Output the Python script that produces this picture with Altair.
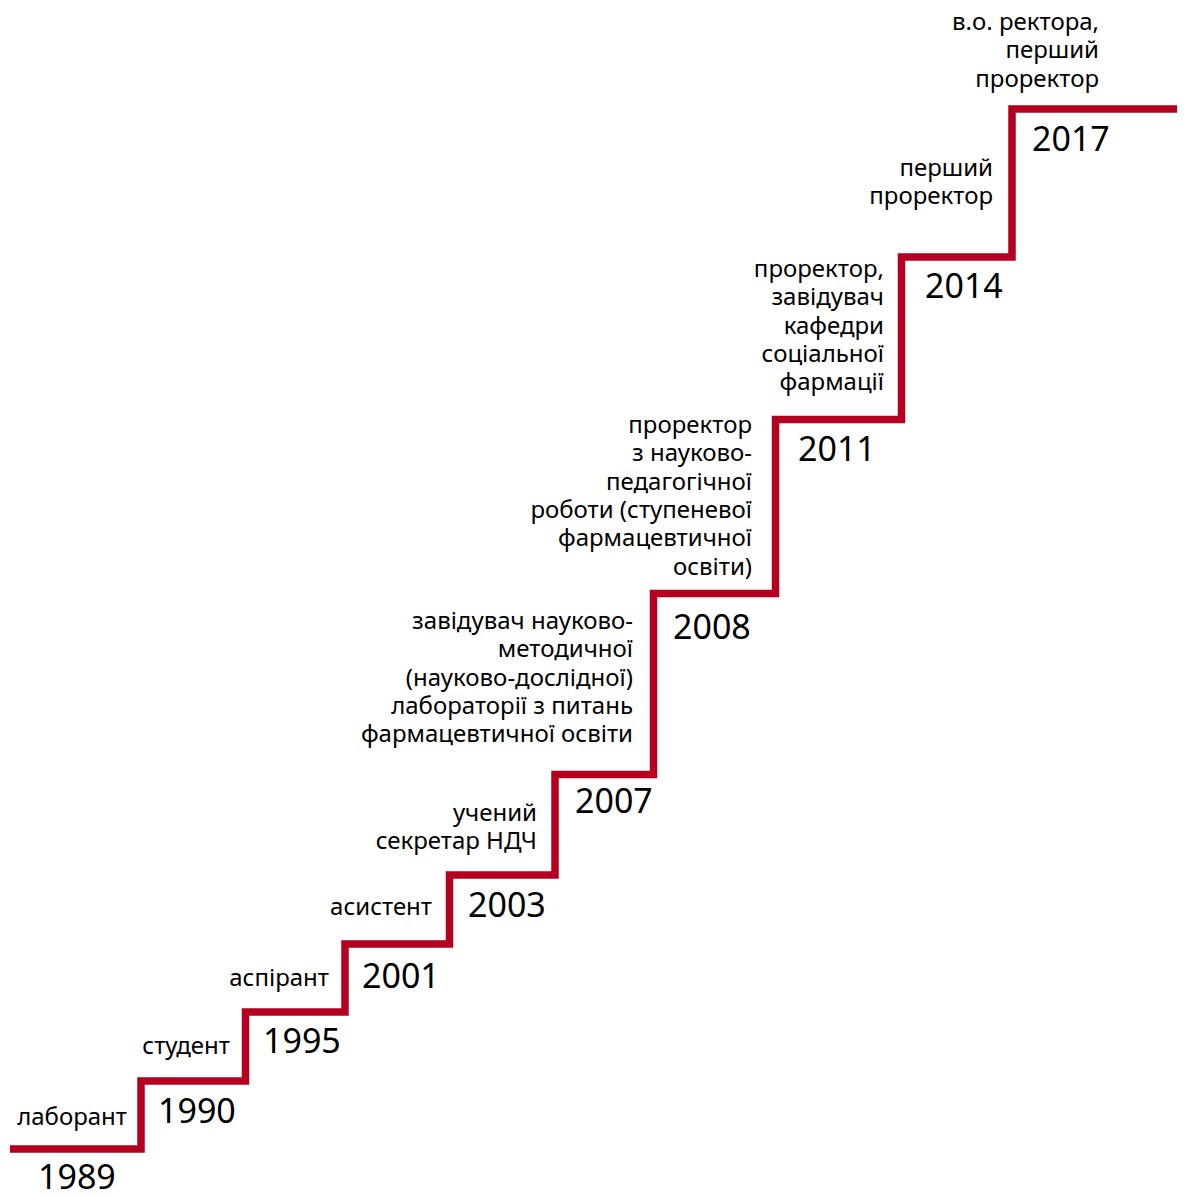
import altair as alt
import pandas as pd

# Staircase: where each step begins (x) and the level of its tread (y), page units
step_x = [10, 141, 245.5, 345, 449.5, 555, 653.5, 775.5, 901.5, 1012, 1185]
step_y = [1149, 1081, 1012, 944, 875, 774.5, 593.5, 419.5, 257, 109, 109]

years = ["1989", "1990", "1995", "2001", "2003", "2007", "2008", "2011", "2014", "2017"]
year_x = [38, 158, 263, 362, 468, 575, 673, 798, 925, 1032]
year_y = [1189, 1123, 1053, 988, 917, 813, 639, 461, 298, 151]

roles = [
    "лаборант",
    "студент",
    "аспірант",
    "асистент",
    "учений\nсекретар НДЧ",
    "завідувач науково-\nметодичної\n(науково-дослідної)\nлабораторії  з питань\nфармацевтичної освіти",
    "проректор\nз науково-\nпедагогічної\nроботи (ступеневої\nфармацевтичної\nосвіти)",
    "проректор,\nзавідувач\nкафедри\nсоціальної\nфармації",
    "перший\nпроректор",
    "в.о. ректора,\nперший\nпроректор",
]
role_x = [127, 230, 329, 432, 537, 633, 752, 884, 993, 1099]
role_y = [1125, 1054, 986, 915, 821, 629, 433, 277, 176, 30]

stairs = pd.DataFrame({"x": step_x, "y": step_y})
year_df = pd.DataFrame({"year": years, "x": year_x, "y": year_y})
role_df = pd.DataFrame({"role": roles, "x": role_x, "y": role_y})

W, H = 1169, 1182
xs = alt.Scale(domain=[8, 8 + W], nice=False, zero=False)
ys = alt.Scale(domain=[8, 8 + H], nice=False, zero=False, reverse=True)

RED = "#b5001f"
FONT = "Noto Sans"

line = alt.Chart(stairs).mark_line(
    interpolate="step-after", color=RED, strokeWidth=7.5,
    strokeJoin="miter", strokeCap="butt", clip=True
).encode(
    x=alt.X("x:Q", scale=xs, axis=None),
    y=alt.Y("y:Q", scale=ys, axis=None),
)

year_text = alt.Chart(year_df).mark_text(
    align="left", baseline="alphabetic", font=FONT, fontSize=34, color="#000000"
).encode(
    x=alt.X("x:Q", scale=xs, axis=None),
    y=alt.Y("y:Q", scale=ys, axis=None),
    text="year:N",
)

role_text = alt.Chart(role_df).mark_text(
    align="right", baseline="alphabetic", font=FONT, fontSize=24,
    lineBreak="\n", lineHeight=28.3, color="#000000"
).encode(
    x=alt.X("x:Q", scale=xs, axis=None),
    y=alt.Y("y:Q", scale=ys, axis=None),
    text="role:N",
)

chart = alt.layer(line, year_text, role_text).properties(
    width=W, height=H, padding=0,
    autosize=alt.AutoSizeParams(type="none"),
).configure_view(stroke=None)

chart.save("out.html", embed_options={"renderer": "svg", "actions": False})
